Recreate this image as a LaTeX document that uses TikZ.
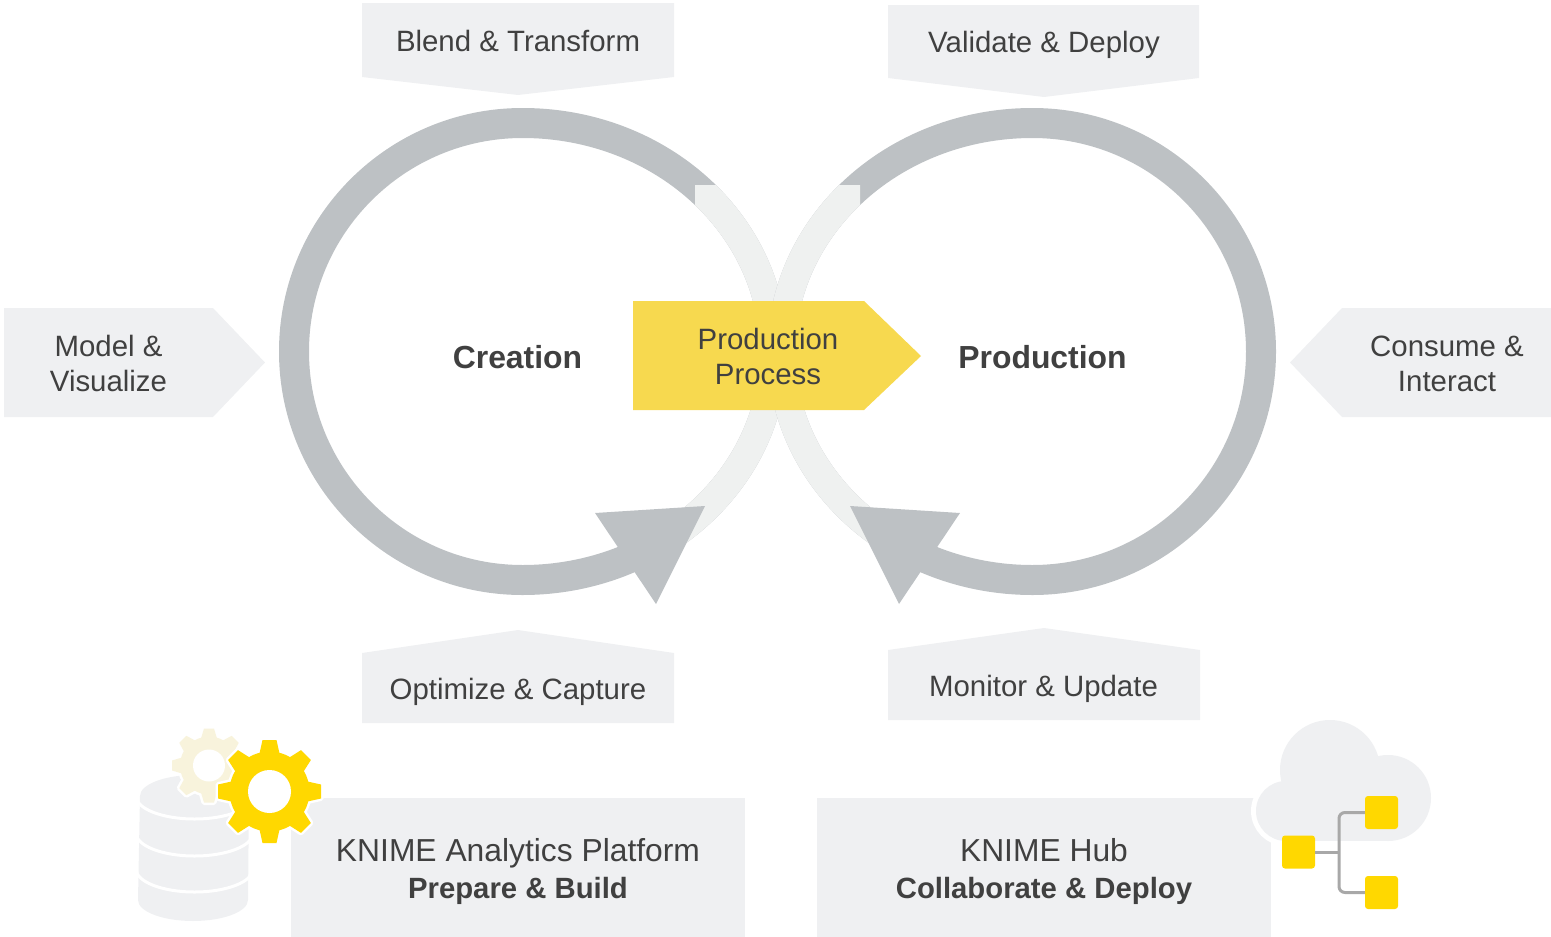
\documentclass[tikz,border=0pt]{standalone}
\usepackage{fontspec}
\setmainfont{Liberation Sans}
\definecolor{ringgray}{HTML}{BDC1C4}
\definecolor{ringlight}{HTML}{EFF1F0}
\definecolor{panel}{HTML}{EFF0F2}
\definecolor{prodyellow}{HTML}{F7D94F}
\definecolor{gearyellow}{HTML}{FFD800}
\definecolor{gearpale}{HTML}{F8F3DC}
\definecolor{inktext}{HTML}{404040}
\definecolor{treegray}{HTML}{A8A8A8}

\tikzstyle{panelfill} = [fill=panel, draw=none]
\tikzstyle{steplabel} = [text=inktext, align=center, inner sep=0pt, font=\fontsize{29.4}{35}\selectfont]
\tikzstyle{loopname} = [text=inktext, align=center, inner sep=0pt, font=\fontsize{31.9}{38}\selectfont\bfseries]
\tikzstyle{toollabel} = [text=inktext, align=center, inner sep=0pt, font=\fontsize{31.8}{37}\selectfont]
\tikzstyle{leafbox} = [fill=gearyellow, rounded corners=3pt, minimum size=33pt, inner sep=0pt]
\tikzstyle{treeline} = [draw=treegray, line width=3pt, rounded corners=6pt]

% ring outline: circle on the left, wider ellipse towards the crossing
\newcommand{\ringpath}{(522.5,108) arc (-90:90:265 and 243.5) arc (90:270:243.5 and 243.5) -- cycle
	(522.5,138) arc (-90:90:237 and 213.5) arc (90:270:213.5 and 213.5) -- cycle}

% bold second line of a tool box
\newcommand{\toolrole}[1]{{\fontsize{29.3}{37}\selectfont\bfseries #1}}

% centre x, centre y, outer r, root r, hole r, tooth half width, colour
\newcommand{\gearicon}[7]{
	\begin{scope}[shift={(#1,#2)}]
		\foreach \a in {0,45,...,315}
			\draw[white, line width=5pt, line join=round, fill=white, rotate=\a] (-#6-3,#4-2) -- (-#6,#3) -- (#6,#3) -- (#6+3,#4-2) -- cycle;
		\draw[white, line width=5pt, fill=white] (0,0) circle (#4);
		\fill[#7] (0,0) circle (#4);
		\foreach \a in {0,45,...,315}
			\fill[#7, rotate=\a] (-#6-3,#4-2) -- (-#6,#3) -- (#6,#3) -- (#6+3,#4-2) -- cycle;
		\fill[white] (0,0) circle (#5);
	\end{scope}
}

\begin{document}
\begin{tikzpicture}[x=1pt, y=-1pt]
	\useasboundingbox (0,0) rectangle (1551,937);

	% the two loops
	\foreach \mirror/\offset in {1/0,-1/1555} {
		\begin{scope}[shift={(\offset,0)}, xscale=\mirror]
			\fill[ringgray, even odd rule] \ringpath;
			\begin{scope}
				\clip (695,185) rectangle (810,351) (640,351) rectangle (810,610);
				\fill[ringlight, even odd rule] \ringpath;
			\end{scope}
			\fill[ringgray] (595,513) -- (705,506) -- (656,604) -- cycle;
		\end{scope}
	}

	% process arrow
	\fill[prodyellow] (633,301) -- (864,301) -- (921,356) -- (864,410) -- (633,410) -- cycle;
	\node [steplabel] (process) at (768,356.5) {Production\\Process};
	\node [loopname] (creation) at (517.5,357) {Creation};
	\node [loopname] (production) at (1042.5,357) {Production};

	% step arrows
	\fill[panelfill] (362,3) -- (674,3) -- (674,77) -- (518,95) -- (362,77) -- cycle;
	\node [steplabel] (blend) at (518,41) {Blend \& Transform};
	\fill[panelfill] (888,5) -- (1199,5) -- (1199,78) -- (1044,97) -- (888,78) -- cycle;
	\node [steplabel] (validate) at (1044,45) {Validate \& Deploy};
	\fill[panelfill] (4,308) -- (213,308) -- (265,362.5) -- (213,417) -- (4,417) -- cycle;
	\node [steplabel] (model) at (108.5,363.5) {Model \&\\Visualize};
	\fill[panelfill] (1551,308) -- (1342,308) -- (1290,362.5) -- (1342,417) -- (1551,417) -- cycle;
	\node [steplabel] (consume) at (1447,363.5) {Consume \&\\Interact};
	\fill[panelfill] (362,723) -- (674,723) -- (674,653) -- (518,630) -- (362,653) -- cycle;
	\node [steplabel] (optimize) at (518,692) {Optimize \& Capture};
	\fill[panelfill] (888,720) -- (1200,720) -- (1200,650) -- (1044,628) -- (888,650) -- cycle;
	\node [steplabel] (monitor) at (1043.5,689) {Monitor \& Update};

	% database
	\fill[panelfill] (140,796) arc (180:360:54.5 and 21) -- (248,900) arc (0:180:55 and 21) -- cycle;
	\foreach \ylev in {796,833,869}
		\draw[white, line width=3pt] (136,\ylev) arc (180:0:58.5 and 23);
	\gearicon{209}{765.5}{37}{29}{16}{5}{gearpale}

	% tool boxes
	\fill[panelfill] (291,798) rectangle (745,937);
	\fill[panelfill] (817,798) rectangle (1271,937);
	\gearicon{269.5}{791.5}{51.5}{40}{21.5}{7}{gearyellow}
	\node [toollabel] (analytics) at (518,871.5) {KNIME Analytics Platform\\\toolrole{Prepare \& Build}};
	\node [toollabel] (hub) at (1044,871.5) {KNIME Hub\\\toolrole{Collaborate \& Deploy}};

	% cloud
	\foreach \cx/\cy/\cr in {1286/811/30,1330/770/50,1388/798/43}
		\draw[white, line width=10pt] (\cx,\cy) circle (\cr);
	\foreach \cx/\cy/\cr in {1286/811/30,1330/770/50,1388/798/43}
		\fill[panelfill] (\cx,\cy) circle (\cr);
	\fill[panelfill] (1286,781) rectangle (1388,841);

	% hub tree
	\node [leafbox] (hubroot) at (1298.5,852) {};
	\node [leafbox] (hubtop) at (1381.5,812.5) {};
	\node [leafbox] (hubbottom) at (1381.5,892.5) {};
	\coordinate (fork) at (1339,852);
	\draw[treegray, line width=3pt] (hubroot) -- (fork);
	\draw[treeline] (hubtop) -| (fork) |- (hubbottom);
\end{tikzpicture}
\end{document}
